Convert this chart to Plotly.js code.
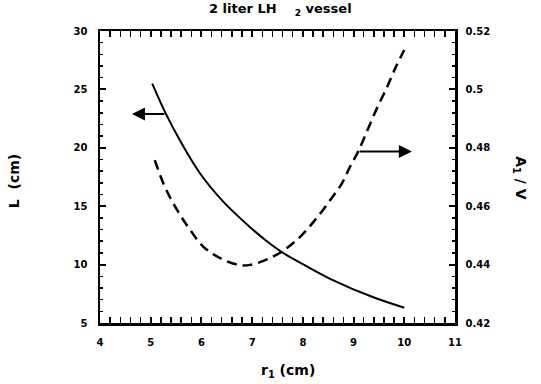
<!DOCTYPE html>
<html>
<head>
<meta charset="utf-8">
<script src="https://cdn.plot.ly/plotly-3.0.1.min.js"></script>
<style>html,body{margin:0;padding:0;background:#fff;}#chart{width:541px;height:384px;}</style>
</head>
<body>
<div id="chart"></div>
<script>
// Data
const rSolid = [5.03, 5.30, 5.58, 5.97, 6.43, 6.96, 7.29, 7.61, 8.08, 8.57, 9.39, 10.0];
const lengthL = [25.5, 22.9, 20.6, 17.82, 15.39, 13.2, 12.0, 11.0, 9.85, 8.72, 7.2, 6.31];

const rDashed = [5.08, 5.25, 5.41, 5.58, 5.78, 6.04, 6.37, 6.73, 6.96, 7.35, 7.68, 7.98, 8.27, 8.54, 8.77, 8.93, 9.09, 9.26, 9.46, 9.65, 9.82, 10.0];
const areaRatio = [0.4758, 0.4678, 0.4621, 0.4570, 0.4518, 0.4461, 0.4422, 0.4399, 0.4399, 0.4422, 0.4456, 0.4501, 0.4559, 0.4621, 0.4678, 0.4735, 0.4787, 0.4855, 0.4935, 0.5004, 0.5072, 0.5135];

const xTicks = [4, 5, 6, 7, 8, 9, 10, 11];
const yLeftTicks = [5, 10, 15, 20, 25, 30];
const yRightTicks = [0.42, 0.44, 0.46, 0.48, 0.5, 0.52];

const FONT = 'DejaVu Sans, Liberation Sans, Arial, sans-serif';
const tickFont = {family: FONT, size: 10, color: '#000', weight: 'bold'};
const bold = v => '<b>' + v + '</b>';

const traces = [
  {x: rSolid, y: lengthL, type: 'scatter', mode: 'lines', line: {color: '#000', width: 2, shape: 'spline'}, yaxis: 'y', hoverinfo: 'skip'},
  {x: rDashed, y: areaRatio, type: 'scatter', mode: 'lines', line: {color: '#000', width: 2.5, dash: '10px,6px', shape: 'spline'}, yaxis: 'y2', hoverinfo: 'skip'}
];

const layout = {
  width: 541, height: 384,
  margin: {l: 100, r: 86, t: 31, b: 61},
  paper_bgcolor: '#fff', plot_bgcolor: '#fff',
  showlegend: false,
  font: {family: FONT, color: '#000'},
  xaxis: {
    range: [4, 11], tickvals: xTicks, ticktext: xTicks.map(bold),
    ticks: 'inside', ticklen: 6, tickwidth: 2, tickcolor: '#000',
    minor: {dtick: 0.2, ticks: 'inside', ticklen: 3, tickwidth: 1.5, tickcolor: '#000'},
    showline: true, linewidth: 2.5, linecolor: '#000', mirror: 'allticks',
    showgrid: false, zeroline: false, tickfont: tickFont, ticklabelstandoff: 8
  },
  yaxis: {
    range: [5, 30], tickvals: yLeftTicks, ticktext: yLeftTicks.map(bold),
    ticks: 'inside', ticklen: 6, tickwidth: 2, tickcolor: '#000',
    minor: {dtick: 1, ticks: 'inside', ticklen: 3, tickwidth: 1.5, tickcolor: '#000'},
    showline: true, linewidth: 2.5, linecolor: '#000',
    showgrid: false, zeroline: false, tickfont: tickFont, ticklabelstandoff: 8
  },
  yaxis2: {
    range: [0.42, 0.52], overlaying: 'y', side: 'right',
    tickvals: yRightTicks, ticktext: yRightTicks.map(bold),
    ticks: 'inside', ticklen: 6, tickwidth: 2, tickcolor: '#000',
    minor: {dtick: 0.004, ticks: 'inside', ticklen: 3, tickwidth: 1.5, tickcolor: '#000'},
    showline: true, linewidth: 2.5, linecolor: '#000',
    showgrid: false, zeroline: false, tickfont: tickFont, ticklabelstandoff: 6
  },
  annotations: [
    {text: '<b>2 liter LH&nbsp;&nbsp;&nbsp;&nbsp;<sub>2</sub> vessel</b>', xref: 'paper', yref: 'paper', x: 0.508, y: 1.072, showarrow: false, font: {family: FONT, size: 13, color: '#000'}, xanchor: 'center', yanchor: 'middle'},
    {text: '<b>L&nbsp; (cm)</b>', xref: 'paper', yref: 'paper', x: -0.242, y: 0.486, textangle: -90, showarrow: false, font: {family: FONT, size: 14, color: '#000'}, xanchor: 'center', yanchor: 'middle'},
    {text: '<b>A<sub>1</sub> / V</b>', xref: 'paper', yref: 'paper', x: 1.183, y: 0.496, textangle: 90, showarrow: false, font: {family: FONT, size: 14, color: '#000'}, xanchor: 'center', yanchor: 'middle'},
    {text: '<b>r<sub>1</sub> (cm)</b>', xref: 'paper', yref: 'paper', x: 0.53, y: -0.164, showarrow: false, font: {family: FONT, size: 14, color: '#000'}, xanchor: 'center', yanchor: 'middle'},
    {x: 4.63, y: 22.9, xref: 'x', yref: 'y', ax: 5.30, ay: 22.9, axref: 'x', ayref: 'y', text: '', showarrow: true, arrowhead: 2, arrowsize: 1.3, arrowwidth: 2, arrowcolor: '#000'},
    {x: 10.15, y: 0.4787, xref: 'x', yref: 'y2', ax: 9.09, ay: 0.4787, axref: 'x', ayref: 'y2', text: '', showarrow: true, arrowhead: 2, arrowsize: 1.3, arrowwidth: 2, arrowcolor: '#000'}
  ]
};

Plotly.newPlot('chart', traces, layout, {displayModeBar: false, staticPlot: true});
</script>
</body>
</html>
